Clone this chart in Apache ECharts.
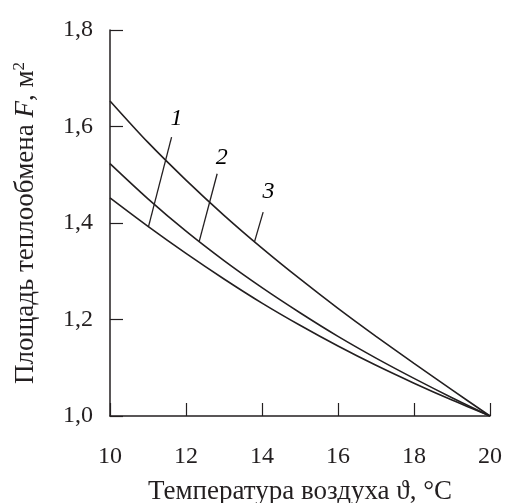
<!DOCTYPE html>
<html>
<head>
<meta charset="utf-8">
<script src="https://cdn.jsdelivr.net/npm/echarts@6/dist/echarts.min.js"></script>
<style>html,body{margin:0;padding:0;background:#fff}#c{width:509px;height:503px}</style>
</head>
<body>
<div id="c"></div>
<script>
// Air temperature, °C
var temps = [10, 11, 12, 13, 14, 15, 16, 17, 18, 19, 20];
// Heat-exchange area F, m²
var curve1 = [1.452, 1.393, 1.337, 1.284, 1.234, 1.188, 1.145, 1.105, 1.068, 1.033, 1.0];
var curve2 = [1.523, 1.450, 1.383, 1.322, 1.266, 1.214, 1.165, 1.120, 1.078, 1.038, 1.0];
var curve3 = [1.653, 1.567, 1.489, 1.416, 1.348, 1.284, 1.223, 1.165, 1.109, 1.054, 1.0];
var curveNames = ['1', '2', '3'];
// leader lines: label end and curve end, in data coords
var leaderTops = [[11.62, 1.578], [12.82, 1.502], [14.03, 1.4226]];
var leaderBottoms = [[11.01, 1.3915], [12.35, 1.3626], [13.80, 1.3605]];
var labelPos = [[11.75, 1.616], [12.94, 1.536], [14.17, 1.464]];
var xTicks = [10, 12, 14, 16, 18, 20];
var yTicks = [1.0, 1.2, 1.4, 1.6, 1.8];

var ink = '#231f20';
var font = '"Liberation Serif", "DejaVu Serif", serif';

function pairs(xs, ys) { return xs.map(function (x, i) { return [x, ys[i]]; }); }
var curves = [curve1, curve2, curve3];
var series = curves.map(function (c, i) {
  return {
    type: 'line', name: curveNames[i], data: pairs(temps, c), smooth: 0.3,
    showSymbol: false, symbol: 'none', lineStyle: { color: ink, width: 1.6 }, silent: true, z: 3
  };
});
series.push({
  type: 'lines', coordinateSystem: 'cartesian2d', silent: true,
  lineStyle: { color: ink, width: 1.3, opacity: 1 },
  data: leaderTops.map(function (t, i) { return { coords: [t, leaderBottoms[i]] }; })
});
series.push({
  type: 'scatter', symbolSize: 0, silent: true, z: 5,
  itemStyle: { color: ink, opacity: 1 },
  data: labelPos.map(function (p, i) { return { value: p, name: curveNames[i] }; }),
  label: {
    show: true, position: 'inside', formatter: function (p) { return p.name; },
    fontFamily: font, fontStyle: 'italic', fontSize: 24, color: '#000', opacity: 1,
    textBorderWidth: 0
  }
});

var chart = echarts.init(document.getElementById('c'), null, { renderer: 'canvas' });
chart.setOption({
  backgroundColor: '#fff',
  animation: false,
  grid: { left: 110, right: 19, top: 30, bottom: 87, containLabel: false, outerBoundsMode: 'none' },
  xAxis: {
    type: 'value', min: xTicks[0], max: xTicks[xTicks.length - 1], interval: 2,
    axisLine: { show: true, lineStyle: { color: ink, width: 1.5 } },
    axisTick: { show: true, inside: true, length: 13, lineStyle: { color: ink, width: 1.2 } },
    splitLine: { show: false },
    axisLabel: { margin: 29, fontFamily: font, fontSize: 24, color: ink },
    name: 'Температура воздуха ϑ, °C', nameLocation: 'middle', nameGap: 62,
    nameTextStyle: { fontFamily: font, fontSize: 27, color: ink }
  },
  yAxis: {
    type: 'value', min: yTicks[0], max: yTicks[yTicks.length - 1], interval: 0.2,
    axisLine: { show: true, lineStyle: { color: ink, width: 1.5 } },
    axisTick: { show: true, inside: true, length: 13, lineStyle: { color: ink, width: 1.2 } },
    splitLine: { show: false },
    axisLabel: {
      margin: 17, fontFamily: font, fontSize: 24, color: ink,
      formatter: function (v) { return v.toFixed(1).replace('.', ','); }
    },
    name: '{n|Площадь теплообмена }{i|F}{n|, м}{s|2}', nameLocation: 'middle', nameGap: 69, nameRotate: 90,
    nameTextStyle: {
      fontFamily: font, fontSize: 27, color: ink,
      rich: {
        n: { fontFamily: font, fontSize: 27, color: ink, lineHeight: 30 },
        i: { fontFamily: font, fontSize: 27, color: ink, fontStyle: 'italic', lineHeight: 30 },
        s: { fontFamily: font, fontSize: 17, color: ink, verticalAlign: 'top', lineHeight: 30 }
      }
    }
  },
  series: series
});
</script>
</body>
</html>
